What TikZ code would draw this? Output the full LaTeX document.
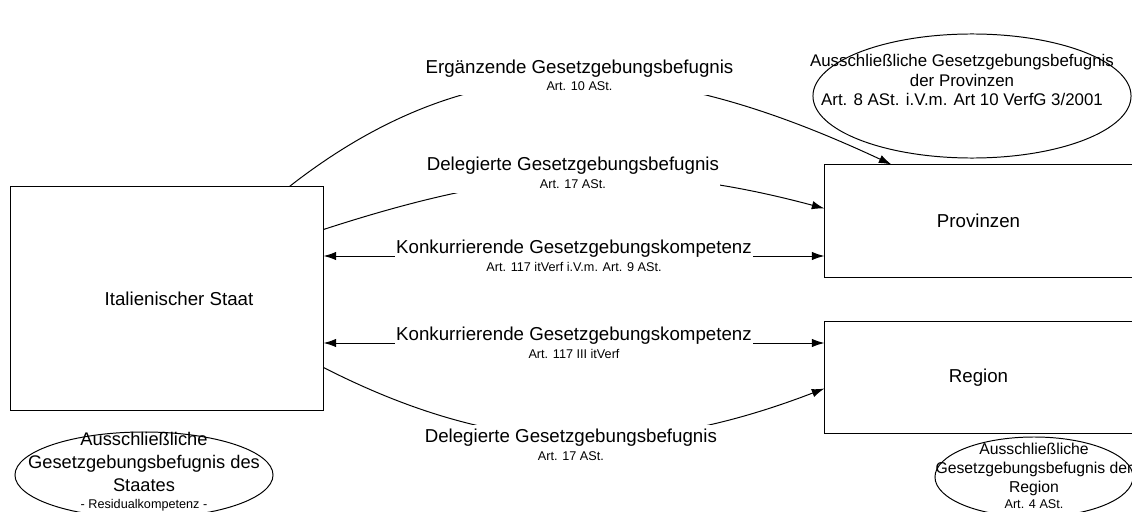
\documentclass[tikz,border=0pt]{standalone}
\usepackage{fontspec}
\setmainfont{Liberation Sans}
\usetikzlibrary{calc, arrows.meta, shapes.geometric}

\newcommand{\artikel}[1]{{\fontsize{9}{10}\selectfont #1}}

\begin{document}
\begin{tikzpicture}[x=0.025cm, y=-0.025cm]
\tikzset{>={Latex[length=9pt,width=6pt]}}
\tikzset{
  ebene/.style={draw, line width=0.7pt, inner sep=0pt, font=\fontsize{13.3}{16}\selectfont},
  befugnis/.style={fill=white, inner xsep=1pt, inner ysep=3pt, align=center, font=\fontsize{13.3}{12.5}\selectfont},
  exkl/.style={draw, ellipse, line width=0.7pt, inner sep=0pt},
  verbindung/.style={line width=0.7pt}
}

  \useasboundingbox (0,0) rectangle (1132,512);
  \clip (0,0) rectangle (1132,512);

  \node[ebene, minimum width=7.8cm, minimum height=5.575cm] (staat) at (167,298.5) {\hspace*{0.6cm}Italienischer Staat};
  \node[ebene, minimum width=7.875cm, minimum height=2.8cm] (prov) at (982.5,221) {Provinzen\hspace*{0.2cm}};
  \node[ebene, minimum width=7.875cm, minimum height=2.775cm] (region) at (982.5,377.5) {Region\hspace*{0.2cm}};

  \node[exkl, minimum width=7.95cm, minimum height=3.1cm,
    label={[align=center, xshift=-0.25cm, yshift=0.4cm, font=\fontsize{12}{14.2}\selectfont]center:{Ausschließliche Gesetzgebungsbefugnis\\der Provinzen\\Art. 8 ASt. i.V.m. Art 10 VerfG 3/2001}}]
    (exklProv) at (972,96) {};
  \node[exkl, minimum width=6.45cm, minimum height=2.15cm,
    label={[align=center, yshift=0.08cm, font=\fontsize{13}{16.4}\selectfont]center:{Ausschließliche\\Gesetzgebungsbefugnis des\\Staates\\[-4pt]\artikel{- Residualkompetenz -}}}]
    (exklStaat) at (144,475) {};
  \node[exkl, minimum width=4.95cm, minimum height=2.0cm,
    label={[align=center, yshift=0.03cm, font=\fontsize{11.2}{13.5}\selectfont]center:{Ausschließliche\\Gesetzgebungsbefugnis der\\Region\\[-2pt]\artikel{Art. 4 ASt.}}}]
    (exklRegion) at (1034,477) {};

  \coordinate (k1) at ($(prov.west)+(0,35)$);
  \coordinate (k2) at ($(region.west)+(0,-34.5)$);

  \draw[verbindung, ->] ($(staat.north west)+(279,0)$) to[out=38, in=155, looseness=1.05]
    node[befugnis, yshift=0.1cm] (ergaenzend) {Ergänzende Gesetzgebungsbefugnis\\\artikel{Art. 10 ASt.}}
    ($(prov.north west)+(67,0)$);
  \draw[verbindung, ->] ($(staat.north east)+(0,43)$) to[out=18, in=165]
    node[befugnis, yshift=0.11cm] (delegProv) {Delegierte Gesetzgebungsbefugnis\\\artikel{Art. 17 ASt.}}
    ($(prov.north west)+(0,44)$);
  \draw[verbindung, <->] (staat.east |- k1) --
    node[befugnis, inner ysep=1pt] (konkProv) {Konkurrierende Gesetzgebungskompetenz\\\artikel{Art. 117 itVerf i.V.m. Art. 9 ASt.}} (k1);
  \draw[verbindung, <->] (staat.east |- k2) --
    node[befugnis, inner ysep=1pt] (konkRegion) {Konkurrierende Gesetzgebungskompetenz\\\artikel{Art. 117 III itVerf}} (k2);
  \draw[verbindung, ->] ($(staat.south east)+(0,-43)$) to[out=-27, in=-159]
    node[befugnis, yshift=-0.17cm] (delegRegion) {Delegierte Gesetzgebungsbefugnis\\\artikel{Art. 17 ASt.}}
    ($(region.north west)+(0,67)$);
\end{tikzpicture}
\end{document}
